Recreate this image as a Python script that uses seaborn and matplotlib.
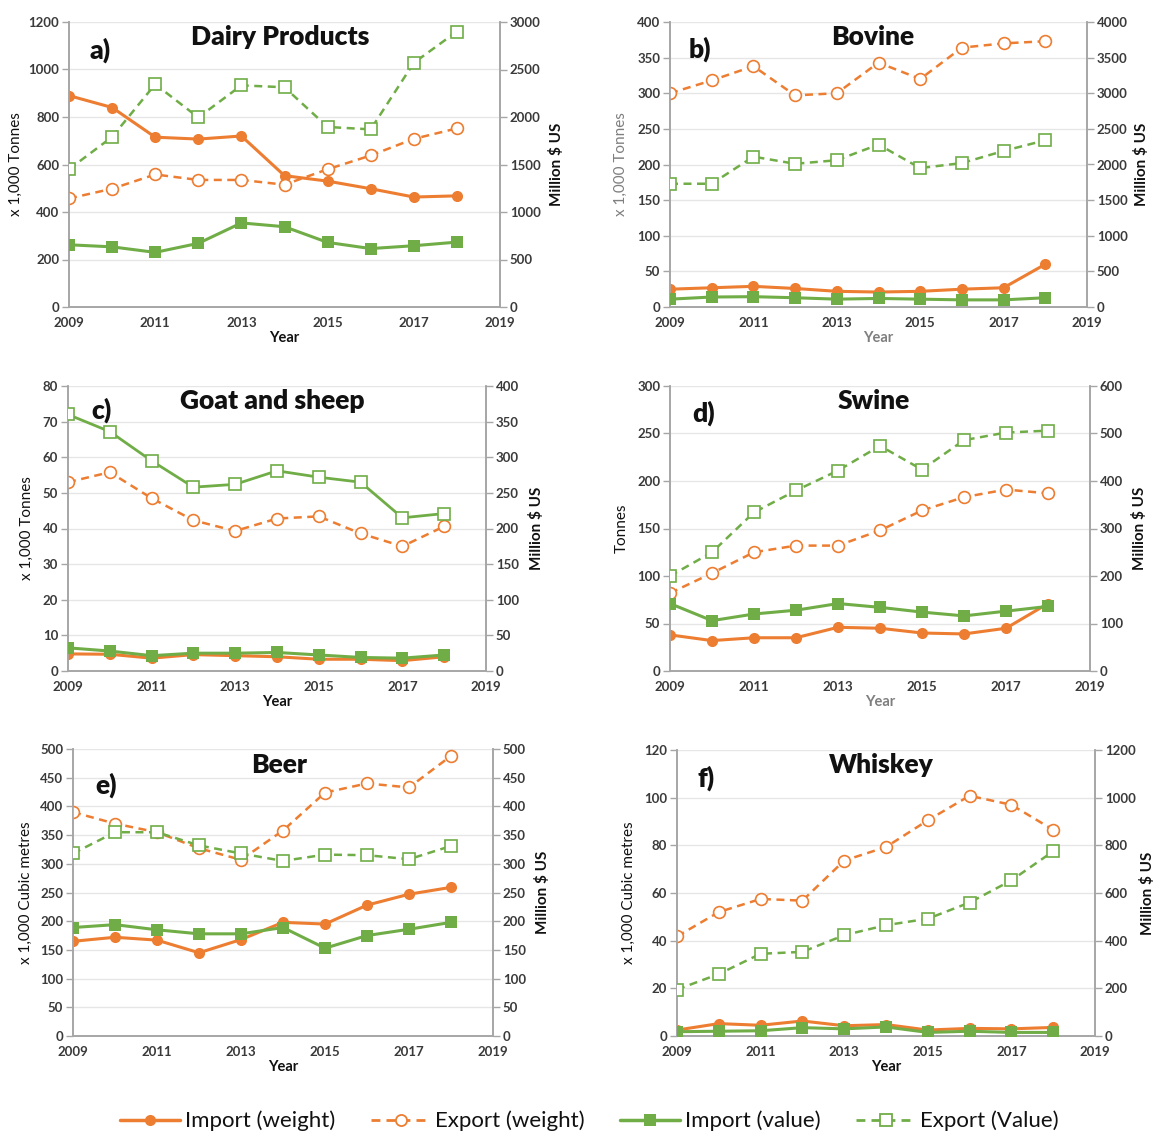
import matplotlib
matplotlib.use("Agg")
import matplotlib.pyplot as plt
from matplotlib.lines import Line2D
import seaborn as sns
import pandas as pd

sns.set_theme(style="white")
plt.rcParams["font.family"] = ["Lato", "DejaVu Sans"]

years = [2009, 2010, 2011, 2012, 2013, 2014, 2015, 2016, 2017, 2018]

# Dairy products (weight: x 1,000 tonnes, value: million $ US)
dairy_imp_w = [890, 840, 715, 707, 720, 553, 530, 498, 463, 468]
dairy_exp_w = [457, 498, 558, 535, 535, 515, 580, 638, 708, 752]
dairy_imp_v = [655, 633, 575, 670, 885, 845, 680, 615, 645, 683]
dairy_exp_v = [1450, 1790, 2345, 1995, 2333, 2313, 1895, 1870, 2570, 2900]

# Bovine
bov_imp_w = [25, 27, 29, 26, 22, 21, 22, 25, 27, 60]
bov_exp_w = [300, 318, 338, 297, 300, 343, 320, 364, 370, 373]
bov_imp_v = [110, 140, 145, 130, 110, 120, 110, 100, 100, 130]
bov_exp_v = [1730, 1730, 2110, 2010, 2060, 2280, 1950, 2020, 2190, 2340]

# Goat and sheep
goat_imp_w = [4.8, 4.7, 3.6, 4.6, 4.3, 4.0, 3.3, 3.3, 2.9, 4.0]
goat_exp_w = [53, 55.8, 48.5, 42.3, 39.3, 42.8, 43.4, 38.6, 35, 40.6]
goat_imp_v = [32.5, 28, 21.5, 25, 25, 26, 22.5, 19, 18, 22.5]
goat_exp_v = [360, 336, 295, 258, 262, 281, 272, 265, 215, 221]

# Swine (weight in tonnes)
swine_imp_w = [38, 32, 35, 35, 46, 45, 40, 39, 45, 71]
swine_exp_w = [82, 103, 125, 132, 132, 148, 169, 183, 191, 187]
swine_imp_v = [142, 106, 120, 128, 142, 134, 124, 116, 126, 136]
swine_exp_v = [200, 250, 334, 380, 422, 474, 424, 486, 502, 506]

# Beer (volume: x 1,000 cubic metres)
beer_imp_w = [165, 172, 167, 145, 168, 198, 195, 228, 247, 259]
beer_exp_w = [390, 370, 355, 327, 307, 358, 424, 440, 433, 488]
beer_imp_v = [189, 194, 185, 178, 178, 189, 153, 175, 186, 198]
beer_exp_v = [318, 355, 355, 332, 318, 305, 316, 315, 308, 331]

# Whiskey
whis_imp_w = [2.5, 5.2, 4.5, 6.3, 4.3, 4.8, 2.5, 3.2, 3.0, 3.6]
whis_exp_w = [41.8, 52, 57.5, 56.8, 73.6, 79.3, 90.5, 100.8, 97, 86.5]
whis_imp_v = [18, 20, 22, 35, 30, 38, 15, 20, 15, 15]
whis_exp_v = [195, 260, 345, 353, 423, 465, 492, 560, 653, 775]

ORANGE = "#ED7D31"
GREEN = "#70AD47"
DASH = (0, (3.2, 2.2))
TICK_COLOR = "#3a3a3a"
SPINE_COLOR = "#a6a6a6"

panels = [
    dict(title="Dairy Products", tag="a)", data=(dairy_imp_w, dairy_exp_w, dairy_imp_v, dairy_exp_v),
         ylim=(0, 1200, 200), y2lim=(0, 3000, 500), ylabel="x 1,000 Tonnes",
         rect=(69, 500, 22, 307), title_pos=(0.49, 0.947), tag_pos=(0.072, 0.90),
         ylab_x=-0.107, y2lab_x=1.114, grey_labels=False, exp_v_solid=False),
    dict(title="Bovine", tag="b)", data=(bov_imp_w, bov_exp_w, bov_imp_v, bov_exp_v),
         ylim=(0, 400, 50), y2lim=(0, 4000, 500), ylabel="x 1,000 Tonnes",
         rect=(670, 1087, 22, 307), title_pos=(0.487, 0.947), tag_pos=(0.072, 0.905),
         ylab_x=-0.101, y2lab_x=1.113, grey_labels=True, exp_v_solid=False),
    dict(title="Goat and sheep", tag="c)", data=(goat_imp_w, goat_exp_w, goat_imp_v, goat_exp_v),
         ylim=(0, 80, 10), y2lim=(0, 400, 50), ylabel="x 1,000 Tonnes",
         rect=(68, 486, 386, 671), title_pos=(0.488, 0.947), tag_pos=(0.079, 0.915),
         ylab_x=-0.081, y2lab_x=1.103, grey_labels=False, exp_v_solid=True),
    dict(title="Swine", tag="d)", data=(swine_imp_w, swine_exp_w, swine_imp_v, swine_exp_v),
         ylim=(0, 300, 50), y2lim=(0, 600, 100), ylabel="Tonnes",
         rect=(670, 1090, 386, 671), title_pos=(0.486, 0.947), tag_pos=(0.081, 0.905),
         ylab_x=-0.098, y2lab_x=1.10, grey_labels="year", exp_v_solid=False),
    dict(title="Beer", tag="e)", data=(beer_imp_w, beer_exp_w, beer_imp_v, beer_exp_v),
         ylim=(0, 500, 50), y2lim=(0, 500, 50), ylabel="x 1,000 Cubic metres",
         rect=(73, 493, 749, 1036), title_pos=(0.49, 0.944), tag_pos=(0.079, 0.875),
         ylab_x=-0.095, y2lab_x=1.10, grey_labels=False, exp_v_solid=False),
    dict(title="Whiskey", tag="f)", data=(whis_imp_w, whis_exp_w, whis_imp_v, whis_exp_v),
         ylim=(0, 120, 20), y2lim=(0, 1200, 200), ylabel="x 1,000 Cubic metres",
         rect=(677, 1095, 750, 1036), title_pos=(0.488, 0.947), tag_pos=(0.069, 0.902),
         ylab_x=-0.098, y2lab_x=1.108, grey_labels=False, exp_v_solid=False),
]

W, H = 1156, 1133
fig = plt.figure(figsize=(W / 100, H / 100), dpi=100)


def style_axis(ax):
    for s in ax.spines.values():
        s.set_color(SPINE_COLOR)
        s.set_linewidth(1.2)
    ax.spines["top"].set_visible(False)


for p in panels:
    x0, x1, y0, y1 = p["rect"]
    ax = fig.add_axes([x0 / W, 1 - y1 / H, (x1 - x0) / W, (y1 - y0) / H])
    ax2 = ax.twinx()
    imp_w, exp_w, imp_v, exp_v = p["data"]
    dfw = pd.DataFrame({"year": years, "imp": imp_w, "exp": exp_w})
    dfv = pd.DataFrame({"year": years, "imp": imp_v, "exp": exp_v})

    sns.lineplot(data=dfw, x="year", y="imp", ax=ax, color=ORANGE, lw=2.2,
                 marker="o", markersize=8, markeredgewidth=0, zorder=4)
    sns.lineplot(data=dfw, x="year", y="exp", ax=ax, color=ORANGE, lw=1.8, linestyle=DASH,
                 marker="o", markersize=8.5, markerfacecolor="white",
                 markeredgecolor=ORANGE, markeredgewidth=1.2, zorder=4)
    sns.lineplot(data=dfv, x="year", y="imp", ax=ax2, color=GREEN, lw=2.2,
                 marker="s", markersize=8, markeredgewidth=0, zorder=4)
    sns.lineplot(data=dfv, x="year", y="exp", ax=ax2, color=GREEN,
                 lw=2.0 if p["exp_v_solid"] else 1.8,
                 linestyle="-" if p["exp_v_solid"] else DASH,
                 marker="s", markersize=8.5, markerfacecolor="white",
                 markeredgecolor=GREEN, markeredgewidth=1.2, zorder=4)

    lo, hi, st = p["ylim"]
    ax.set_ylim(lo, hi)
    ax.set_yticks(list(range(lo, hi + 1, st)))
    lo2, hi2, st2 = p["y2lim"]
    ax2.set_ylim(lo2, hi2)
    ax2.set_yticks(list(range(lo2, hi2 + 1, st2)))
    ax.set_xlim(2009, 2019)
    ax.set_xticks(list(range(2009, 2020, 2)))

    ax.grid(axis="y", color="#e6e6e6", lw=1.0)
    ax.set_axisbelow(True)
    style_axis(ax)
    style_axis(ax2)

    for a in (ax, ax2):
        a.tick_params(axis="both", which="both", direction="out", length=5, width=1,
                      color=SPINE_COLOR, labelsize=9.5, labelcolor=TICK_COLOR, pad=2)
        for lab in a.get_yticklabels() + a.get_xticklabels():
            lab.set_fontweight("bold")

    ylab_color = "#7f7f7f" if p["grey_labels"] is True else "#111111"
    year_color = "#7f7f7f" if p["grey_labels"] else "#111111"
    ax.set_ylabel(p["ylabel"], fontsize=11, color=ylab_color)
    ax.yaxis.set_label_coords(p["ylab_x"], 0.5)
    ax2.set_ylabel("Million $ US", fontsize=11, fontweight="bold", color="#111111")
    ax2.yaxis.set_label_coords(p["y2lab_x"], 0.5)
    ax.set_xlabel("Year", fontsize=10.5, fontweight="bold", color=year_color)
    ax.xaxis.set_label_coords(0.5, -0.085)

    ax2.text(p["title_pos"][0], p["title_pos"][1], p["title"], transform=ax.transAxes,
             ha="center", va="center", fontsize=19, fontweight="heavy", color="#111111", zorder=10)
    ax2.text(p["tag_pos"][0], p["tag_pos"][1], p["tag"], transform=ax.transAxes,
             ha="center", va="center", fontsize=19, fontweight="heavy", color="#111111", zorder=10)

handles = [
    Line2D([], [], color=ORANGE, lw=2.5, marker="o", markersize=8, markeredgewidth=0),
    Line2D([], [], color=ORANGE, lw=2.0, linestyle=DASH, marker="o", markersize=8,
           markerfacecolor="white", markeredgecolor=ORANGE, markeredgewidth=1.3),
    Line2D([], [], color=GREEN, lw=2.5, marker="s", markersize=8, markeredgewidth=0),
    Line2D([], [], color=GREEN, lw=2.0, linestyle=DASH, marker="s", markersize=8,
           markerfacecolor="white", markeredgecolor=GREEN, markeredgewidth=1.3),
]
labels = ["Import (weight)", "Export (weight)", "Import (value)", "Export (Value)"]
fig.legend(handles, labels, loc="center", bbox_to_anchor=(0.51, 0.0105), ncol=4,
           frameon=False, fontsize=16, handlelength=2.7, handletextpad=0.2,
           columnspacing=1.6, labelcolor="#111111")

fig.savefig("out.png", dpi=100, facecolor="white")
